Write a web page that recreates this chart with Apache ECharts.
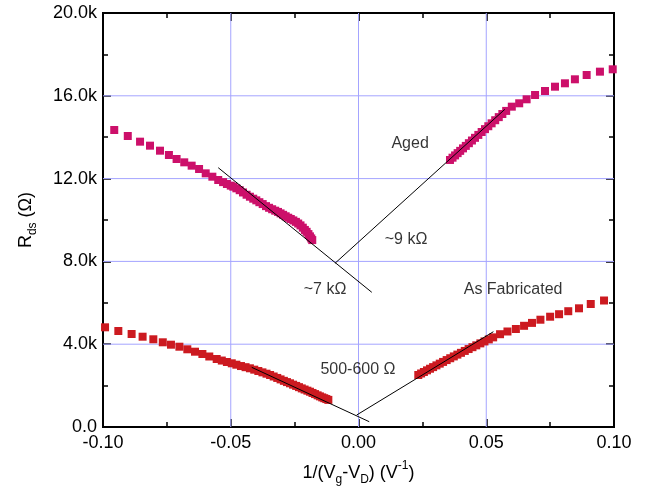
<!DOCTYPE html>
<html>
<head>
<meta charset="utf-8">
<title>Rds vs 1/(Vg-VD)</title>
<script src="https://cdn.jsdelivr.net/npm/echarts@6/dist/echarts.min.js"></script>
<style>
  html, body { margin: 0; padding: 0; background: #fff; }
  #chart { width: 649px; height: 491px; }
</style>
</head>
<body>
<div id="chart"></div>
<script>
// Aged device, negative branch: 1/(Vg-VD) (V^-1) and Rds (ohm)
const agedLeftX = [-0.0956, -0.0903, -0.0855, -0.0816, -0.0777, -0.0742, -0.0712, -0.0682, -0.0653, -0.0624,
  -0.0598, -0.0572, -0.0549, -0.0530, -0.0515, -0.0500, -0.0490, -0.0478, -0.0465, -0.0452,
  -0.0438, -0.0425, -0.0412, -0.0400, -0.0388, -0.0375, -0.0362, -0.0350, -0.0338, -0.0326,
  -0.0315, -0.0305, -0.0295, -0.0285, -0.0275, -0.0265, -0.0255, -0.0245, -0.0236, -0.0227,
  -0.0218, -0.0210, -0.0203, -0.0196, -0.0190, -0.0185, -0.0181];
const agedLeftY = [14348, 14058, 13784, 13591, 13349, 13140, 12947, 12786, 12625, 12464,
  12254, 12092, 11932, 11830, 11740, 11660, 11610, 11530, 11440, 11330,
  11220, 11125, 11030, 10950, 10860, 10770, 10670, 10590, 10520, 10450,
  10390, 10320, 10250, 10180, 10110, 10050, 9980, 9910, 9830, 9740,
  9630, 9520, 9430, 9320, 9210, 9110, 9030];

// Aged device, positive branch
const agedRightX = [0.0358, 0.0368, 0.0378, 0.0388, 0.0398, 0.0409, 0.0420, 0.0432, 0.0444, 0.0456,
  0.0469, 0.0482, 0.0495, 0.0508, 0.0521, 0.0535, 0.0549, 0.0563, 0.0578, 0.0600,
  0.0629, 0.0658, 0.0691, 0.0730, 0.0769, 0.0808, 0.0847, 0.0893, 0.0945, 0.0995];
const agedRightY = [12900, 13010, 13120, 13230, 13340, 13460, 13580, 13710, 13840, 13970,
  14110, 14250, 14390, 14530, 14670, 14820, 14970, 15120, 15270, 15475,
  15638, 15831, 16039, 16232, 16440, 16604, 16797, 17005, 17166, 17280];

// As-fabricated device, negative branch
const fabLeftX = [-0.0992, -0.0940, -0.0888, -0.0845, -0.0803, -0.0766, -0.0734, -0.0701, -0.0670, -0.0640,
  -0.0611, -0.0584, -0.0555, -0.0535, -0.0515, -0.0496, -0.0478, -0.0460, -0.0442, -0.0425,
  -0.0408, -0.0392, -0.0376, -0.0360, -0.0346, -0.0332, -0.0318, -0.0305, -0.0292, -0.0280,
  -0.0268, -0.0256, -0.0244, -0.0233, -0.0222, -0.0211, -0.0200, -0.0190, -0.0180, -0.0170,
  -0.0160, -0.0151, -0.0142, -0.0134, -0.0126, -0.0118];
const fabLeftY = [4816, 4638, 4493, 4362, 4237, 4092, 3976, 3879, 3754, 3638,
  3527, 3406, 3285, 3210, 3140, 3077, 3010, 2945, 2890, 2836,
  2770, 2705, 2640, 2575, 2512, 2440, 2370, 2300, 2230, 2170,
  2111, 2045, 1985, 1925, 1865, 1810, 1755, 1705, 1645, 1590,
  1530, 1480, 1430, 1390, 1350, 1310];

// As-fabricated device, positive branch
const fabRightX = [0.0234, 0.0245, 0.0256, 0.0268, 0.0280, 0.0292, 0.0305, 0.0318, 0.0331, 0.0345,
  0.0359, 0.0373, 0.0387, 0.0401, 0.0416, 0.0431, 0.0446, 0.0461, 0.0477, 0.0493,
  0.0510, 0.0527, 0.0554, 0.0583, 0.0616, 0.0648, 0.0679, 0.0712, 0.0750, 0.0785,
  0.0821, 0.0863, 0.0909, 0.0961];
const fabRightY = [2512, 2585, 2658, 2737, 2815, 2893, 2977, 3061, 3144, 3233,
  3322, 3410, 3497, 3583, 3675, 3766, 3856, 3945, 4040, 4133,
  4232, 4330, 4483, 4614, 4734, 4889, 5029, 5183, 5328, 5449,
  5594, 5734, 5942, 6111];

// Linear fits extrapolated to the vertex near 1/(Vg-VD) = 0
const agedFitLeft = [[-0.0549, 12527], [0.0052, 6507]];
const agedFitRight = [[-0.0092, 7908], [0.0573, 15348]];
const fabFitLeft = [[-0.0418, 2884], [0.0042, 256]];
const fabFitRight = [[-0.0007, 580], [0.0528, 4604]];

// Annotation texts and where they sit (data coordinates)
const noteTexts = ['Aged', '~9 k\u03A9', '~7 k\u03A9', 'As Fabricated', '500-600 \u03A9'];
const notePos = [[0.0202, 13705], [0.0186, 9050], [-0.0131, 6618], [0.0605, 6652], [-0.0002, 2754]];

// Axis ranges and the interior values that get a grid line
const xRange = [-0.10, 0.10];
const yRange = [0, 20000];
const xStep = 0.05;
const yStep = 4000;
const xGridValues = [-0.05, 0.00, 0.05];
const yGridValues = [4000, 8000, 12000, 16000];

const FONT = "'Liberation Sans', Arial, sans-serif";
const AGED = '#cc106a';
const FAB = '#cc1a20';
const GRID_BLUE = '#a4a4ff';

const zip = (xs, ys) => xs.map((x, i) => [x, ys[i]]);

const fmtX = v => (Math.abs(v) < 1e-9 ? '0.00' : v.toFixed(2));
const fmtY = v => (v === 0 ? '0.0' : (v / 1000).toFixed(1) + 'k');

// frame axis: black line with inward major and minor ticks
function frameAxis(extra) {
  return Object.assign({
    axisLine: { show: true, onZero: false, lineStyle: { color: '#000', width: 2 } },
    axisTick: { show: true, inside: true, length: 8, lineStyle: { color: '#000', width: 1.5 } },
    minorTick: { show: true, splitNumber: 2, length: 5, lineStyle: { color: '#000', width: 1.5 } },
    splitLine: { show: false }
  }, extra);
}

const chart = echarts.init(document.getElementById('chart'), null, { renderer: 'canvas' });

const scatter = (name, xs, ys, color) => ({
  name, type: 'scatter', data: zip(xs, ys), symbol: 'rect', symbolSize: 8,
  itemStyle: { color, opacity: 1 }, silent: true, z: 3
});
const fit = (data) => ({
  type: 'line', data, symbol: 'none', silent: true, z: 4,
  lineStyle: { color: '#000', width: 1 }
});
// light grid line through a given data segment
const gridLine = (data) => ({
  type: 'line', data, symbol: 'none', silent: true, z: 1,
  lineStyle: { color: GRID_BLUE, width: 1 }
});

const gridSeries = [
  ...xGridValues.map(x => gridLine([[x, yRange[0]], [x, yRange[1]]])),
  ...yGridValues.map(y => gridLine([[xRange[0], y], [xRange[1], y]]))
];

chart.setOption({
  animation: false,
  textStyle: { fontFamily: FONT },
  grid: { left: 103, right: 35, top: 13, bottom: 64, containLabel: false,
    show: true, borderColor: '#000', borderWidth: 2, backgroundColor: 'transparent' },
  xAxis: [
    frameAxis({
      type: 'value', position: 'bottom', min: xRange[0], max: xRange[1], interval: xStep,
      axisLabel: { formatter: fmtX, color: '#000', fontSize: 18, fontFamily: FONT, margin: 7 },
      name: '{m|1/(V}{sub|g}{m|-V}{sub|D}{m|) (V}{sup|-1}{m|)}',
      nameLocation: 'middle', nameGap: 33,
      nameTextStyle: {
        color: '#000', fontFamily: FONT,
        rich: {
          m: { fontSize: 18, lineHeight: 26, color: '#000', fontFamily: FONT },
          sub: { fontSize: 12, lineHeight: 12, verticalAlign: 'bottom', color: '#000', fontFamily: FONT },
          sup: { fontSize: 12, lineHeight: 18, verticalAlign: 'top', color: '#000', fontFamily: FONT }
        }
      }
    }),
    frameAxis({
      type: 'value', position: 'top', min: xRange[0], max: xRange[1], interval: xStep,
      axisLabel: { show: false }
    })
  ],
  yAxis: [
    frameAxis({
      type: 'value', position: 'left', min: yRange[0], max: yRange[1], interval: yStep,
      axisLabel: { formatter: fmtY, color: '#000', fontSize: 18, fontFamily: FONT, margin: 6 },
      name: '{m|R}{sub|ds}{m| (\u03A9)}',
      nameLocation: 'middle', nameGap: 64, nameRotate: 90,
      nameTextStyle: {
        color: '#000', fontFamily: FONT,
        rich: {
          m: { fontSize: 18, lineHeight: 26, color: '#000', fontFamily: FONT },
          sub: { fontSize: 12, lineHeight: 12, verticalAlign: 'bottom', color: '#000', fontFamily: FONT }
        }
      }
    }),
    frameAxis({
      type: 'value', position: 'right', min: yRange[0], max: yRange[1], interval: yStep,
      axisLabel: { show: false }
    })
  ],
  series: [
    ...gridSeries,
    scatter('Aged', agedLeftX, agedLeftY, AGED),
    scatter('Aged', agedRightX, agedRightY, AGED),
    scatter('As Fabricated', fabLeftX, fabLeftY, FAB),
    scatter('As Fabricated', fabRightX, fabRightY, FAB),
    fit(agedFitLeft),
    fit(agedFitRight),
    fit(fabFitLeft),
    fit(fabFitRight),
    {
      type: 'scatter', symbolSize: 0, silent: true, z: 5,
      data: noteTexts.map((t, i) => ({ name: t, value: notePos[i] })),
      label: {
        show: true, position: 'inside', formatter: p => p.name,
        color: '#000', fontSize: 16, fontFamily: FONT
      }
    }
  ]
});
</script>
</body>
</html>
